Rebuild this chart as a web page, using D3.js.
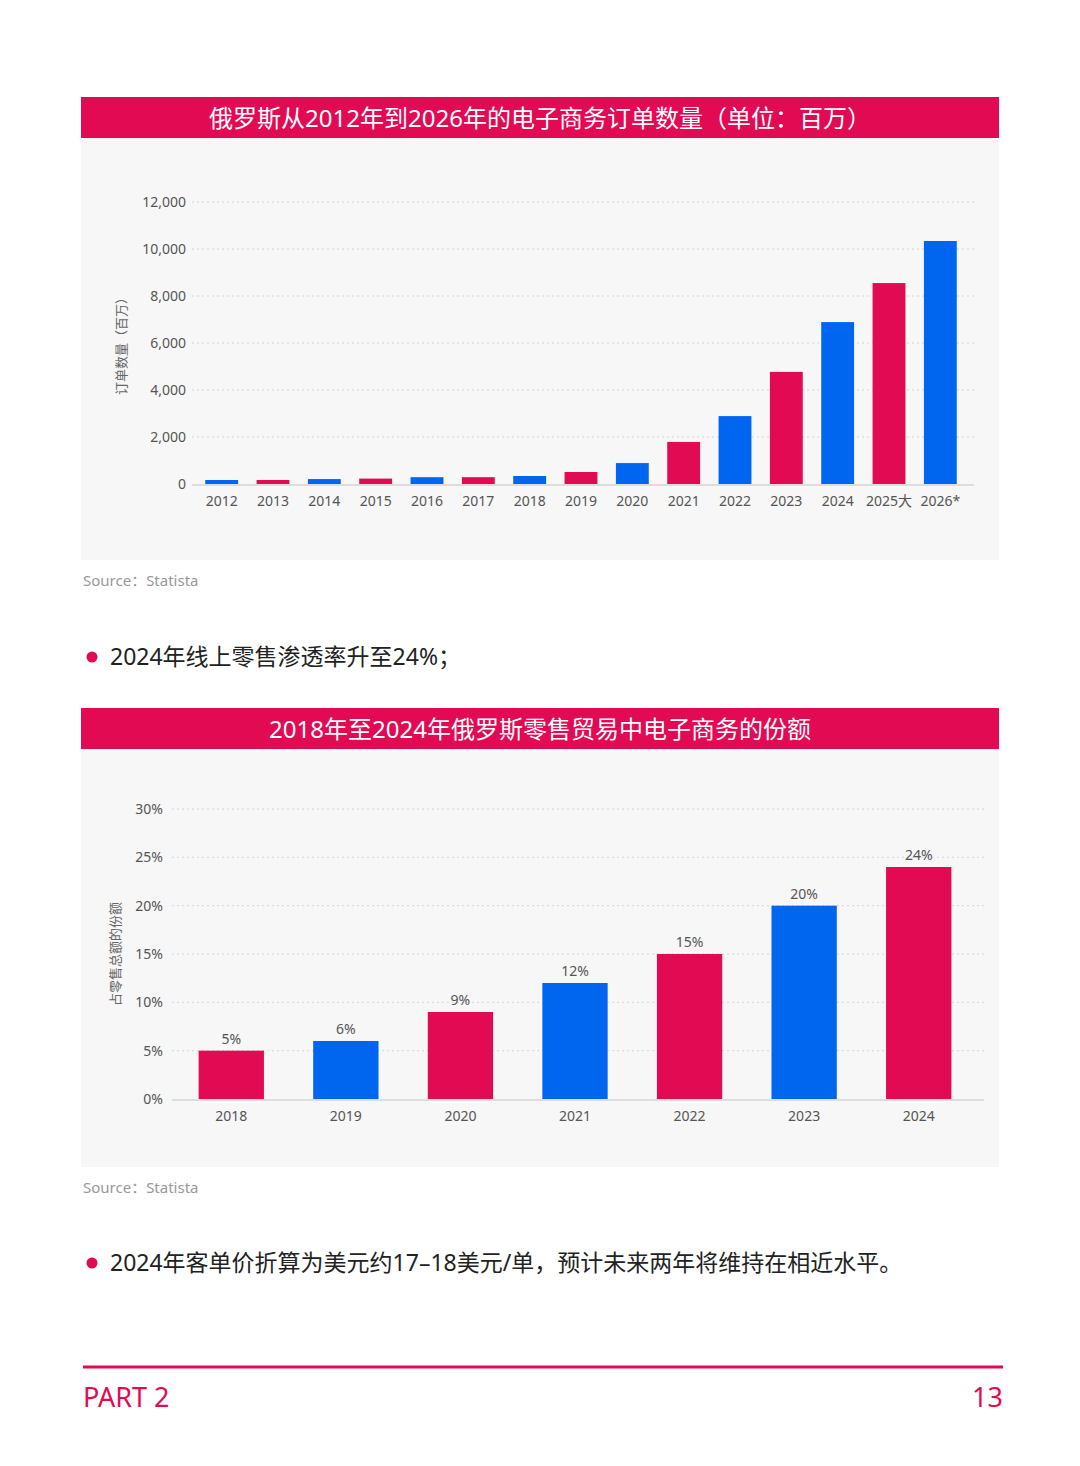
<!DOCTYPE html>
<html><head><meta charset="utf-8">
<script src="https://cdn.jsdelivr.net/npm/d3@7"></script>
<style>body{margin:0;background:#fff}svg{font-family:"Noto Sans","Noto Sans CJK SC",sans-serif}</style>
</head><body>
<svg id="c" width="1080" height="1466"></svg>
<script>
const years1 = ["2012","2013","2014","2015","2016","2017","2018","2019","2020","2021","2022","2023","2024","2025大","2026*"]
const orders = [170,170,210,230,290,290,340,510,890,1790,2890,4770,6890,8550,10340]
const ticks1 = [0,2000,4000,6000,8000,10000,12000]
const years2 = ["2018","2019","2020","2021","2022","2023","2024"]
const share = [5,6,9,12,15,20,24]
const ticks2 = [0,5,10,15,20,25,30]
const RED = "#e20a52", BLUE = "#0066f0"

const svg = d3.select("#c")

function panel(top, bottom, title) {
	svg.append("rect").attr("x",81).attr("y",top).attr("width",918).attr("height",bottom-top).attr("fill","#f7f7f7")
	svg.append("rect").attr("x",81).attr("y",top).attr("width",918).attr("height",41).attr("fill",RED)
	svg.append("text").attr("x",540).attr("y",top+30).attr("text-anchor","middle")
		.attr("fill","#fff").attr("font-size",24).text(title)
	svg.append("text").attr("x",83).attr("y",bottom+26).attr("fill","#999").attr("font-size",15).text("Source：Statista")
}

function chart(o) {
	const x = d3.scaleBand().domain(o.cats).range([o.x0,o.x1]).paddingInner(o.pad).paddingOuter(o.pad/2)
	const y = d3.scaleLinear().domain([0,o.max]).range([o.y0,o.y1])
	const g = svg.append("g")
	g.selectAll(".grid").data(o.ticks.slice(1)).join("line")
		.attr("x1",o.gx).attr("x2",o.x1+8).attr("y1",y).attr("y2",y)
		.attr("stroke","#d6d6d6").attr("stroke-dasharray","2,3")
	g.append("line").attr("x1",o.gx).attr("x2",o.x1+8).attr("y1",o.y0+1).attr("y2",o.y0+1).attr("stroke","#ddd").attr("stroke-width",2)
	g.selectAll(".tk").data(o.ticks).join("text")
		.attr("x",o.tx).attr("y",d=>y(d)+5).attr("text-anchor","end")
		.attr("fill","#555").attr("font-size",14).text(o.fmt)
	g.selectAll(".bar").data(o.vals).join("rect")
		.attr("x",(d,i)=>x(o.cats[i])).attr("width",x.bandwidth())
		.attr("y",d=>y(d)).attr("height",d=>o.y0-y(d))
		.attr("fill",(d,i)=>o.colors[i%2])
	g.selectAll(".cat").data(o.cats).join("text")
		.attr("x",d=>x(d)+x.bandwidth()/2).attr("y",o.y0+22).attr("text-anchor","middle")
		.attr("fill","#555").attr("font-size",14).text(d=>d)
	if (o.labels)
		g.selectAll(".lb").data(o.vals).join("text")
			.attr("x",(d,i)=>x(o.cats[i])+x.bandwidth()/2).attr("y",d=>y(d)-7).attr("text-anchor","middle")
			.attr("fill","#555").attr("font-size",14).text(d=>d+"%")
	g.append("text").attr("transform",`translate(${o.lx},${(o.y0+o.y1)/2}) rotate(-90)`)
		.attr("text-anchor","middle").attr("fill","#666").attr("font-size",13).text(o.ylabel)
}

panel(97,560,"俄罗斯从2012年到2026年的电子商务订单数量（单位：百万）")
chart({cats:years1,vals:orders,ticks:ticks1,max:12000,x0:196,x1:966,y0:484,y1:202,pad:0.36,
	gx:192,tx:186,lx:126,fmt:d3.format(","),colors:[BLUE,RED],ylabel:"订单数量（百万）"})

svg.append("circle").attr("cx",92).attr("cy",657).attr("r",5.5).attr("fill",RED)
svg.append("text").attr("x",110).attr("y",665).attr("font-size",23).attr("fill","#222").text("2024年线上零售渗透率升至24%；")

panel(708,1167,"2018年至2024年俄罗斯零售贸易中电子商务的份额")
chart({cats:years2,vals:share,ticks:ticks2,max:30,x0:174,x1:976,y0:1099,y1:809,pad:0.43,
	gx:172,tx:163,lx:120,fmt:d=>d+"%",colors:[RED,BLUE],ylabel:"占零售总额的份额",labels:true})

svg.append("circle").attr("cx",92).attr("cy",1263).attr("r",5.5).attr("fill",RED)
svg.append("text").attr("x",110).attr("y",1271).attr("font-size",23).attr("fill","#222").text("2024年客单价折算为美元约17–18美元/单，预计未来两年将维持在相近水平。")

svg.append("line").attr("x1",83).attr("x2",1003).attr("y1",1367).attr("y2",1367).attr("stroke",RED).attr("stroke-width",3)
svg.append("text").attr("x",83).attr("y",1407).attr("font-size",27).attr("fill",RED).text("PART 2")
svg.append("text").attr("x",1003).attr("y",1407).attr("font-size",27).attr("fill",RED).attr("text-anchor","end").text("13")
</script>
</body></html>
